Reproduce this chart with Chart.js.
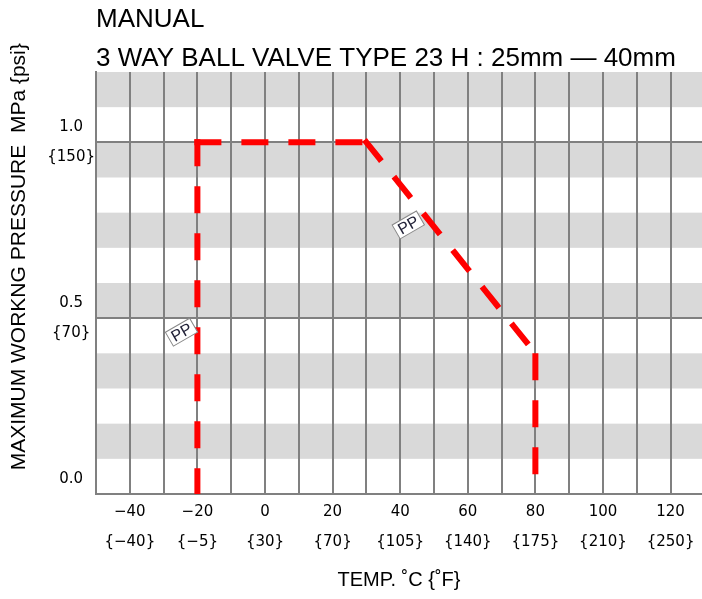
<!DOCTYPE html>
<html>
<head>
<meta charset="utf-8">
<script src="https://cdn.jsdelivr.net/npm/chart.js@4"></script>
<style>
  html, body { margin: 0; padding: 0; background: #fff; }
  canvas { display: block; }
</style>
</head>
<body>
<canvas id="myChart" width="702" height="599"></canvas>
<script>
// pressure-temperature curve (PP)
const temps = [-20, -20, 30, 80, 80];
const pressures = [0, 1.0, 1.0, 0.4, 0];

// axis ticks
const xGrid = [-50, -40, -30, -20, -10, 0, 10, 20, 30, 40, 50, 60, 70, 80, 90, 100, 110, 120];
const xTickValues = [-40, -20, 0, 20, 40, 60, 80, 100, 120];
const xTickC = ['−40', '−20', '0', '20', '40', '60', '80', '100', '120'];
const xTickF = ['{−40}', '{−5}', '{30}', '{70}', '{105}', '{140}', '{175}', '{210}', '{250}'];
const yTickValues = [0, 0.5, 1.0];
const yTickMPa = ['0.0', '0.5', '1.0'];
const yTickPsi = ['', '{70}', '{150}'];

// shaded bands (MPa)
const bandRanges = [[0.1, 0.2], [0.3, 0.4], [0.5, 0.6], [0.7, 0.8], [0.9, 1.0], [1.1, 1.2]];

// "PP" tags, anchored in data units
const ppTags = [{ x: -24.7, y: 0.46 }, { x: 42.4, y: 0.765 }];

// each leg of the curve is stroked on its own, starting from its upper end,
// so the dash pattern restarts at every corner like the original drawing
const legDashOffsets = [0, 0, 0, -3];
const legs = [];
for (let i = 0; i < temps.length - 1; i++) {
    let a = { x: temps[i], y: pressures[i] };
    let b = { x: temps[i + 1], y: pressures[i + 1] };
    if (b.y > a.y) [a, b] = [b, a];
    legs.push([a, b]);
}

const bandsPlugin = {
    id: 'bands',
    beforeDraw(chart) {
        const { ctx, chartArea, scales: { y } } = chart;
        ctx.save();
        ctx.fillStyle = '#d9d9d9';
        bandRanges.forEach(([lo, hi]) => {
            const top = y.getPixelForValue(hi);
            const bot = y.getPixelForValue(lo);
            ctx.fillRect(chartArea.left, top, chartArea.right - chartArea.left, bot - top);
        });
        ctx.restore();
    }
};

const tagsPlugin = {
    id: 'ppTags',
    afterDatasetsDraw(chart) {
        const { ctx, scales: { x, y } } = chart;
        ppTags.forEach(t => {
            ctx.save();
            ctx.translate(x.getPixelForValue(t.x), y.getPixelForValue(t.y));
            ctx.rotate(-30 * Math.PI / 180);
            ctx.fillStyle = '#fff';
            ctx.fillRect(-14, -8, 28, 16);
            ctx.strokeStyle = '#888';
            ctx.lineWidth = 1;
            ctx.strokeRect(-14, -8, 28, 16);
            ctx.fillStyle = '#222238';
            ctx.font = '16px "Liberation Sans"';
            ctx.textAlign = 'center';
            ctx.textBaseline = 'middle';
            ctx.fillText('PP', 0, 1);
            ctx.restore();
        });
    }
};

const ctx = document.getElementById('myChart');

new Chart(ctx, {
    type: 'line',
    data: {
        datasets: legs.map((leg, i) => ({
            label: 'PP',
            data: leg,
            borderColor: '#ff0000',
            borderWidth: 6,
            borderDash: [21, 26],
            borderDashOffset: legDashOffsets[i],
            borderCapStyle: 'square',
            pointRadius: 0,
            tension: 0,
            fill: false,
            clip: 0
        }))
    },
    options: {
        responsive: false,
        animation: false,
        devicePixelRatio: 1,
        layout: { padding: 0 },
        plugins: {
            legend: { display: false },
            tooltip: { enabled: false },
            title: {
                display: true,
                text: ['MANUAL', '3 WAY BALL VALVE TYPE 23 H : 25mm — 40mm'],
                align: 'start',
                fullSize: false,
                color: '#000',
                font: { family: 'Liberation Sans', size: 26, weight: 'normal', lineHeight: 1.5 },
                padding: { top: 0.5, bottom: -6.5 }
            }
        },
        scales: {
            x: {
                type: 'linear',
                min: -50,
                max: 129.3,
                afterBuildTicks: s => { s.ticks = xGrid.map(v => ({ value: v })); },
                afterFit: s => { s.height = 105; },
                ticks: {
                    autoSkip: false,
                    maxRotation: 0,
                    padding: 3,
                    color: '#000',
                    font: { family: 'DejaVu Sans', size: 15, lineHeight: '30px' },
                    callback: v => {
                        const i = xTickValues.indexOf(v);
                        return i < 0 ? '' : [xTickC[i], xTickF[i]];
                    }
                },
                grid: { color: '#808080', lineWidth: 2, drawTicks: false },
                border: { color: '#808080', width: 2 },
                title: {
                    display: true,
                    text: 'TEMP. ˚C {˚F}',
                    color: '#000',
                    font: { family: 'Liberation Sans', size: 20 },
                    padding: { top: 0, bottom: 7 }
                }
            },
            y: {
                min: 0,
                max: 1.2,
                afterBuildTicks: s => { s.ticks = yTickValues.map(v => ({ value: v })); },
                afterFit: s => { s.width = 96; },
                ticks: {
                    crossAlign: 'center',
                    padding: 1,
                    color: '#000',
                    font: { family: 'DejaVu Sans', size: 15, lineHeight: '30px' },
                    callback: v => {
                        const i = yTickValues.indexOf(v);
                        return i < 0 ? '' : [yTickMPa[i], yTickPsi[i]];
                    }
                },
                grid: { color: '#808080', lineWidth: 2, drawTicks: false },
                border: { color: '#808080', width: 2 },
                title: {
                    display: true,
                    text: '         MAXIMUM WORKNG PRESSURE  MPa {psi}',
                    color: '#000',
                    font: { family: 'Liberation Sans', size: 21 },
                    padding: { top: 7, bottom: 0 }
                }
            }
        }
    },
    plugins: [bandsPlugin, tagsPlugin]
});
</script>
</body>
</html>
